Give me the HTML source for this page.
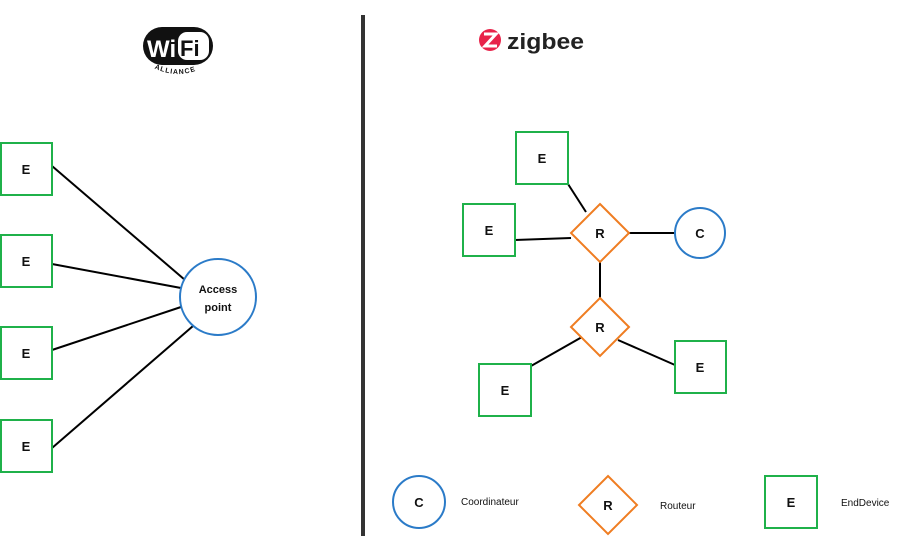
<!DOCTYPE html>
<html><head><meta charset="utf-8"><style>
html,body{margin:0;padding:0;background:#fff;width:900px;height:537px;overflow:hidden}
svg{display:block}
text{font-family:"Liberation Sans","DejaVu Sans",sans-serif}
</style></head><body>
<svg width="900" height="537" viewBox="0 0 900 537" xmlns="http://www.w3.org/2000/svg">
<g>
<rect x="143" y="27" width="70" height="38" rx="19" fill="#111"/>
<text x="147" y="57" font-size="24" font-weight="bold" fill="#fff">Wi</text>
<rect x="178" y="32" width="31" height="28" rx="9" fill="#fff"/>
<text x="180" y="56" font-size="22" font-weight="bold" fill="#111">Fi</text>
<path id="arc" d="M150 66 Q178 82 206 66" fill="none"/>
<text font-size="7" font-weight="bold" fill="#111" letter-spacing="1"><textPath href="#arc" startOffset="8%">ALLIANCE</textPath></text>
</g>
<circle cx="490" cy="40" r="11" fill="#e8234a"/>
<path d="M484 34 H496 L485 46 H497" stroke="#fff" stroke-width="3" fill="none"/>
<text x="507" y="49" font-size="22" font-weight="bold" fill="#222" textLength="77" lengthAdjust="spacingAndGlyphs">zigbee</text>
<rect x="361" y="15" width="4" height="521" fill="#333"/>
<g stroke="#000" stroke-width="2">
<line x1="52" y1="166" x2="185" y2="280"/>
<line x1="52" y1="264" x2="181" y2="288"/>
<line x1="52" y1="350" x2="181" y2="307"/>
<line x1="52" y1="448" x2="193" y2="326"/>
<line x1="568" y1="184" x2="586" y2="212"/>
<line x1="515" y1="240" x2="571" y2="238"/>
<line x1="629" y1="233" x2="675" y2="233"/>
<line x1="600" y1="262" x2="600" y2="298"/>
<line x1="531" y1="366" x2="582" y2="337"/>
<line x1="618" y1="340" x2="675" y2="365"/>
</g>
<g fill="#fff" stroke="#1fb14a" stroke-width="2">
<rect x="1" y="143" width="51" height="52"/>
<rect x="1" y="235" width="51" height="52"/>
<rect x="1" y="327" width="51" height="52"/>
<rect x="1" y="420" width="51" height="52"/>
<rect x="516" y="132" width="52" height="52"/>
<rect x="463" y="204" width="52" height="52"/>
<rect x="479" y="364" width="52" height="52"/>
<rect x="675" y="341" width="51" height="52"/>
<rect x="765" y="476" width="52" height="52"/>
</g>
<g fill="#fff" stroke="#2b7bc8" stroke-width="2">
<circle cx="218" cy="297" r="38"/>
<circle cx="700" cy="233" r="25"/>
<circle cx="419" cy="502" r="26"/>
</g>
<g fill="#fff" stroke="#ef7d22" stroke-width="2">
<polygon points="600,204 629,233 600,262 571,233"/>
<polygon points="600,298 629,327 600,356 571,327"/>
<polygon points="608,476 637,505 608,534 579,505"/>
</g>
<g font-size="13" font-weight="bold" fill="#111" text-anchor="middle">
<text x="26" y="174">E</text>
<text x="26" y="266">E</text>
<text x="26" y="358">E</text>
<text x="26" y="451">E</text>
<text x="542" y="163">E</text>
<text x="489" y="235">E</text>
<text x="505" y="395">E</text>
<text x="700" y="372">E</text>
<text x="791" y="507">E</text>
<text x="600" y="238">R</text>
<text x="600" y="332">R</text>
<text x="608" y="510">R</text>
<text x="700" y="238">C</text>
<text x="419" y="507">C</text>
<text x="218" y="293" font-size="11">Access</text>
<text x="218" y="311" font-size="11">point</text>
</g>
<g font-size="10" fill="#111">
<text x="461" y="505">Coordinateur</text>
<text x="660" y="509">Routeur</text>
<text x="841" y="506">EndDevice</text>
</g>
</svg>
</body></html>
